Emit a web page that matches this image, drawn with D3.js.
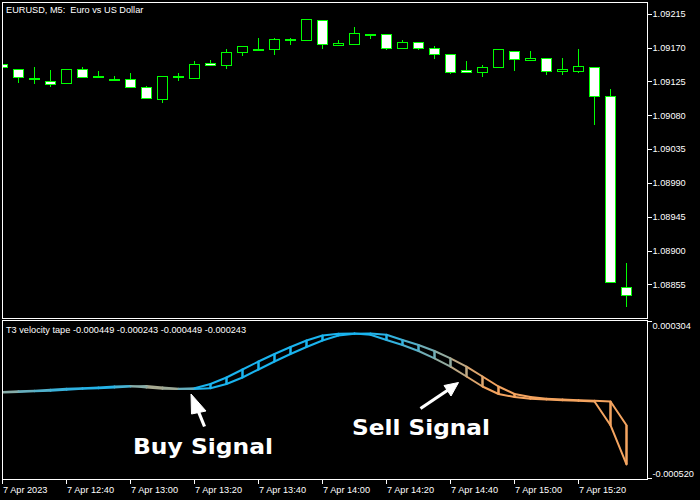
<!DOCTYPE html>
<html><head><meta charset="utf-8">
<script src="https://cdn.jsdelivr.net/npm/d3@7/dist/d3.min.js"></script>
<style>html,body{margin:0;padding:0;background:#000;}svg{display:block;}</style>
</head><body>
<script>
// ---- data ----
const opens  = [1.09148,1.09141,1.09129,1.09126,1.09123,1.09141,1.09132,1.09128,1.09128,1.09117,1.09101,1.09132,1.09130,1.09150,1.09147,1.09164,1.09168,1.09168,1.09181,1.09180,1.09206,1.09174,1.09175,1.09188,1.09188,1.09170,1.09178,1.09170,1.09162,1.09140,1.09138,1.09144,1.09166,1.09154,1.09156,1.09139,1.09139,1.09144,1.09106,1.08852];
const highs  = [1.09148,1.09141,1.09144,1.09140,1.09142,1.09144,1.09139,1.09132,1.09136,1.09119,1.09132,1.09136,1.09152,1.09154,1.09168,1.09172,1.09183,1.09183,1.09183,1.09208,1.09206,1.09180,1.09197,1.09188,1.09188,1.09180,1.09178,1.09172,1.09162,1.09152,1.09147,1.09168,1.09166,1.09165,1.09156,1.09156,1.09168,1.09144,1.09115,1.08883];
const lows   = [1.09144,1.09123,1.09122,1.09117,1.09123,1.09131,1.09129,1.09125,1.09117,1.09102,1.09096,1.09126,1.09128,1.09147,1.09142,1.09159,1.09167,1.09160,1.09174,1.09180,1.09168,1.09172,1.09175,1.09181,1.09167,1.09168,1.09167,1.09155,1.09135,1.09136,1.09131,1.09143,1.09139,1.09154,1.09133,1.09134,1.09136,1.09067,1.08857,1.08825];
const closes = [1.09144,1.09130,1.09128,1.09122,1.09142,1.09131,1.09132,1.09128,1.09117,1.09102,1.09132,1.09132,1.09148,1.09147,1.09164,1.09172,1.09168,1.09181,1.09181,1.09208,1.09174,1.09176,1.09190,1.09188,1.09170,1.09178,1.09170,1.09162,1.09138,1.09137,1.09144,1.09168,1.09155,1.09156,1.09139,1.09141,1.09145,1.09106,1.08859,1.08842];
// T3 values, first entry is the bar before the first visible bar
const t3 = [-0.0000713,-0.0000686,-0.0000650,-0.0000618,-0.0000571,-0.0000518,-0.0000487,-0.0000445,-0.0000398,-0.0000371,-0.0000450,-0.0000513,-0.0000529,-0.0000492,-0.0000266,0.0000075,0.0000495,0.0000914,0.0001308,0.0001675,0.0002017,0.0002279,0.0002368,0.0002384,0.0002321,0.0002043,0.0001780,0.0001465,0.0001082,0.0000641,0.0000127,-0.0000398,-0.0000791,-0.0000949,-0.0001038,-0.0001080,-0.0001117,-0.0001148,-0.0001185,-0.000243,-0.000449];
// colour blend per bar: 0 = up colour, 1 = down colour
const tapeMix = [0.6,0.5,0.35,0.25,0.15,0.1,0.05,0.05,0.2,0.5,0.65,0.6,0.35,0,0,0,0,0,0,0,0,0,0,0,0.05,0.12,0.25,0.4,0.55,0.75,0.9,1,1,1,1,1,1,1,1,1];
const priceTicks = [1.09215,1.09170,1.09125,1.09080,1.09035,1.08990,1.08945,1.08900,1.08855];
const indTicks = [0.000304,-0.000520];
const timeTickIdx = [0,4,8,12,16,20,24,28,32,36];
const timeLabels = ["7 Apr 2023","7 Apr 12:40","7 Apr 13:00","7 Apr 13:20","7 Apr 13:40","7 Apr 14:00","7 Apr 14:20","7 Apr 14:40","7 Apr 15:00","7 Apr 15:20"];
const title = "EURUSD, M5:  Euro vs US Dollar";
const indTitle = "T3 velocity tape -0.000449 -0.000243 -0.000449 -0.000243";

// ---- layout ----
const W = 700, H = 500;
const L = 2, R = 647, mainTop = 2, mainBot = 318, indTop = 320, indBot = 479;
const font = "'Liberation Sans', Arial, sans-serif";
const fs = 9.2;
const upCol = "#1ab4ef", dnCol = "#f4a460";

const svg = d3.select("body").append("svg").attr("width", W).attr("height", H);
svg.append("rect").attr("width", W).attr("height", H).attr("fill", "#000");

const idx = d3.range(opens.length);
const x = d3.scaleLinear().domain([0, 39]).range([2.5, 626.5]);
const y = d3.scaleLinear().domain([1.088103, 1.092306]).range([mainBot, mainTop]);
const yi = d3.scaleLinear().domain([-0.000520, 0.000304]).range([478, 321]);

const defs = svg.append("defs");
defs.append("clipPath").attr("id", "cm").append("rect").attr("x", L + 1).attr("y", mainTop + 1).attr("width", R - L - 1).attr("height", mainBot - mainTop - 1);
defs.append("clipPath").attr("id", "ci").append("rect").attr("x", L + 1).attr("y", indTop + 1).attr("width", R - L - 1).attr("height", indBot - indTop - 1);

// candles
const gc = svg.append("g").attr("clip-path", "url(#cm)").attr("shape-rendering", "crispEdges");
gc.selectAll("line.w").data(idx).join("line")
  .attr("x1", i => x(i)).attr("x2", i => x(i))
  .attr("y1", i => y(highs[i])).attr("y2", i => y(lows[i]))
  .attr("stroke", "#00ff00").attr("stroke-width", 1);
gc.selectAll("rect.b").data(idx).join("rect")
  .attr("x", i => Math.round(x(i) - 5.5) + 0.5)
  .attr("width", 10)
  .attr("y", i => Math.round(y(Math.max(opens[i], closes[i]))) + 0.5)
  .attr("height", i => Math.max(1, Math.round(Math.abs(y(opens[i]) - y(closes[i])))))
  .attr("fill", i => closes[i] < opens[i] ? "#fff" : "#000")
  .attr("stroke", "#00ff00").attr("stroke-width", 1);

// indicator tape
const gi = svg.append("g").attr("clip-path", "url(#ci)");
const mix = i => d3.interpolateRgb(upCol, dnCol)(tapeMix[i]);
// lagged line (previous value)
gi.selectAll("line.a").data(idx.filter(i => i > 0)).join("line")
  .attr("x1", i => x(i - 1)).attr("y1", i => yi(t3[i - 1]))
  .attr("x2", i => x(i)).attr("y2", i => yi(t3[i]))
  .attr("stroke", i => mix(i)).attr("stroke-width", 2).attr("stroke-linecap", "round");
// current line
gi.selectAll("line.b").data(idx).join("line")
  .attr("x1", i => x(i - 1)).attr("y1", i => yi(t3[i]))
  .attr("x2", i => x(i)).attr("y2", i => yi(t3[i + 1]))
  .attr("stroke", i => mix(i)).attr("stroke-width", 2).attr("stroke-linecap", "round");
// connecting bars
gi.selectAll("line.v").data(idx).join("line")
  .attr("x1", i => x(i)).attr("x2", i => x(i))
  .attr("y1", i => yi(t3[i])).attr("y2", i => yi(t3[i + 1]))
  .attr("stroke", i => mix(i)).attr("stroke-width", 2.5);

// frames
const fr = svg.append("g").attr("fill", "none").attr("stroke", "#fff").attr("stroke-width", 1).attr("shape-rendering", "crispEdges");
fr.append("rect").attr("x", L + 0.5).attr("y", mainTop + 0.5).attr("width", R - L).attr("height", mainBot - mainTop);
fr.append("rect").attr("x", L + 0.5).attr("y", indTop + 0.5).attr("width", R - L).attr("height", indBot - indTop);

// price axis
const pa = svg.append("g").attr("transform", `translate(${R + 0.5},0)`);
pa.selectAll("line").data(priceTicks).join("line")
  .attr("x1", 0).attr("x2", 4).attr("y1", d => Math.round(y(d)) + 0.5).attr("y2", d => Math.round(y(d)) + 0.5)
  .attr("stroke", "#fff").attr("shape-rendering", "crispEdges");
pa.selectAll("text").data(priceTicks).join("text")
  .attr("x", 5).attr("y", d => y(d) + 3.3)
  .attr("fill", "#fff").attr("font-family", font).attr("font-size", fs)
  .text(d => d.toFixed(5));

// indicator axis
const ia = svg.append("g").attr("transform", `translate(${R + 0.5},0)`);
ia.selectAll("line").data(indTicks).join("line")
  .attr("x1", 0).attr("x2", 4).attr("y1", d => Math.round(yi(d)) + 0.5).attr("y2", d => Math.round(yi(d)) + 0.5)
  .attr("stroke", "#fff").attr("shape-rendering", "crispEdges");
ia.selectAll("text").data(indTicks).join("text")
  .attr("x", 5).attr("y", (d, i) => i === 0 ? yi(d) + 7.5 : yi(d) - 1)
  .attr("fill", "#fff").attr("font-family", font).attr("font-size", fs)
  .text(d => d.toFixed(6));

// time axis
const ta = svg.append("g");
ta.selectAll("line").data(timeTickIdx).join("line")
  .attr("x1", i => Math.floor(x(i)) + 0.5).attr("x2", i => Math.floor(x(i)) + 0.5)
  .attr("y1", indBot).attr("y2", indBot + 5)
  .attr("stroke", "#fff").attr("shape-rendering", "crispEdges");
ta.selectAll("text").data(timeTickIdx).join("text")
  .attr("x", i => Math.floor(x(i)) + 1).attr("y", 493)
  .attr("fill", "#fff").attr("font-family", font).attr("font-size", fs)
  .text((d, k) => timeLabels[k]);

// titles
svg.append("text").attr("x", 6).attr("y", 12.5).attr("fill", "#fff")
  .attr("font-family", font).attr("font-size", fs).attr("xml:space", "preserve").text(title);
svg.append("text").attr("x", 6).attr("y", 333).attr("fill", "#fff")
  .attr("font-family", font).attr("font-size", fs).text(indTitle);

// annotations
const bold = "'DejaVu Sans', Verdana, sans-serif";
svg.append("text").attr("x", 133).attr("y", 454).attr("fill", "#fff")
  .attr("font-family", bold).attr("font-weight", "bold").attr("font-size", 22)
  .attr("textLength", 140).attr("lengthAdjust", "spacingAndGlyphs").text("Buy Signal");
svg.append("text").attr("x", 352).attr("y", 435).attr("fill", "#fff")
  .attr("font-family", bold).attr("font-weight", "bold").attr("font-size", 22)
  .attr("textLength", 138).attr("lengthAdjust", "spacingAndGlyphs").text("Sell Signal");

// arrows
const ag = svg.append("g").attr("fill", "#fff").attr("stroke", "#fff");
ag.append("path").attr("d", "M191,394 L191.5,414 L206,411 Z").attr("stroke-width", 1);
ag.append("line").attr("x1", 197).attr("y1", 408).attr("x2", 204.5).attr("y2", 426.5).attr("stroke-width", 3.2);
ag.append("path").attr("d", "M458.5,382.5 L444,385.5 L451,396 Z").attr("stroke-width", 1);
ag.append("line").attr("x1", 448).attr("y1", 390).attr("x2", 420.5).attr("y2", 408.5).attr("stroke-width", 3.2);
</script>
</body></html>
